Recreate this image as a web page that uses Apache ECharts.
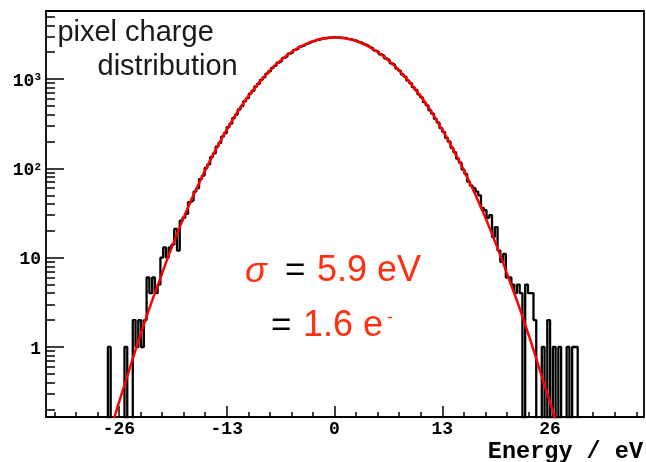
<!DOCTYPE html>
<html>
<head>
<meta charset="utf-8">
<script src="https://cdn.jsdelivr.net/npm/echarts@6.0.0/dist/echarts.min.js"></script>
<style>
html,body{margin:0;padding:0;background:#fff;}
#chart{width:646px;height:462px;}
</style>
</head>
<body>
<div id="chart"></div>
<script>
// ---- data ----
const binStart = -27 - 1/3;     // left edge of first bin (eV)
const binWidth = 1/3;           // eV per bin
const counts = [
  1,0,0,0,0,0,1,0,0,2,1,2,1,2,6,4,6,4,5,10,13,10,13,14,21,12,
  26,28,31,42,44,55,60,76,83,101,111,134,147,175,193,227,249,290,318,367,
  401,458,497,565,611,688,741,826,886,982,1047,1151,1224,1335,1409,1526,1602,1725,1799,1925,
  1996,2121,2188,2309,2366,2480,2528,2633,2667,2760,2778,2856,2861,2920,2905,2947,
  2915,2938,2889,2890,2825,2810,2729,2700,2601,2559,
  2450,2398,2279,2217,2093,2024,1898,1826,1700,1626,
  1503,1430,1313,1243,1133,1066,965,902,812,755,
  675,623,552,509,448,410,358,326,283,256,
  220,199,170,152,129,116,97,87,71,64,
  60,55,50,36,34,28,30,17,22,12,
  9,11,6,6,5,4,5,4,0,5,
  4,4,2,0,0,1,0,2,0,1,
  0,1,0,0,1,0,1,1
];
const fitX = [-28,-27,-26,-25,-24,-23,-22,-21,-20,-19,-18,-17,-16,-15,-14,-13,-12,-11,-10,-9,-8,-7,-6,-5,-4,-3,-2,-1,
  0,1,2,3,4,5,6,7,8,9,10,11,12,13,14,15,16,17,18,19,20,21,22,23,24,25,26,27,28];
const fitY = [0.0546,0.117,0.24,0.47,0.93,1.78,3.3,5.9,10.6,18.4,31,50.5,79.5,123,185,270,386,536,717,936,1191,1472,1767,2062,2340,2582,2770,2889,
  2930,2889,2770,2582,2340,2062,1767,1472,1191,936,717,536,386,270,185,123,79.5,50.5,31,18.4,10.6,5.9,3.3,1.78,0.93,0.47,0.24,0.117,0.0546];
const xMajorTicks = [-26,-13,0,13,26];
const xMinorTicks = [-33.8,-31.2,-28.6,-23.4,-20.8,-18.2,-15.6,-10.4,-7.8,-5.2,-2.6,2.6,5.2,7.8,10.4,15.6,18.2,20.8,23.4,28.6,31.2,33.8,36.4];
const yMajorTicks = [1,10,100,1000];
const yTickLabels = ['{b|1}','{b|10}','{b|10}{s|2}','{b|10}{s|3}'];
const yMinorTicks = [0.2,0.3,0.4,0.5,0.6,0.7,0.8,0.9,2,3,4,5,6,7,8,9,20,30,40,50,60,70,80,90,200,300,400,500,600,700,800,900,2000,3000,4000,5000];
const xRange = [-34.8, 37.33];
const yRange = [0.1644, 5790];

// ---- build series ----
const EMPTY = 1e-3; // empty bins drawn below the log-axis floor (clipped)
const histPoints = [[binStart, EMPTY]];
counts.forEach((c, i) => histPoints.push([binStart + i * binWidth, c > 0 ? c : EMPTY]));
histPoints.push([binStart + counts.length * binWidth, EMPTY]);
const fitPoints = fitX.map((x, i) => [x, fitY[i]]);

const chart = echarts.init(document.getElementById('chart'), null, {renderer: 'canvas'});
const monoBold = {fontFamily: 'Liberation Mono', fontWeight: 'bold', color: '#000'};
const RED = '#ff3010';
const noLine = {show: false, onZero: false};

chart.setOption({
  animation: false,
  backgroundColor: '#fff',
  grid: {left: 46, right: 2, top: 11, bottom: 45, show: true, borderColor: '#000', borderWidth: 1.8,
         backgroundColor: '#fff', outerBoundsMode: 'none', containLabel: false},
  xAxis: [
    {type: 'value', min: xRange[0], max: xRange[1], position: 'bottom',
     axisLine: noLine, splitLine: {show: false},
     axisTick: {show: true, inside: true, length: 11, customValues: xMajorTicks, lineStyle: {color: '#000', width: 1.5}},
     axisLabel: Object.assign({customValues: xMajorTicks, fontSize: 18, margin: 3}, monoBold)},
    {type: 'value', min: xRange[0], max: xRange[1], position: 'bottom',
     axisLine: noLine, splitLine: {show: false},
     axisTick: {show: true, inside: true, length: 5, customValues: xMinorTicks, lineStyle: {color: '#000', width: 1.5}},
     axisLabel: {show: false}}
  ],
  yAxis: [
    {type: 'log', min: yRange[0], max: yRange[1], position: 'left',
     axisLine: noLine, splitLine: {show: false},
     axisTick: {show: true, inside: true, length: 18, customValues: yMajorTicks, lineStyle: {color: '#000', width: 1.5}},
     axisLabel: {customValues: yMajorTicks, margin: 5, align: 'right', padding: [4, 0, 0, 0],
       formatter: v => yTickLabels[yMajorTicks.indexOf(Math.round(v))] || '',
       rich: {
         b: {fontFamily: 'Liberation Mono', fontWeight: 'bold', fontSize: 18, lineHeight: 18, color: '#000'},
         s: {fontFamily: 'Liberation Mono', fontWeight: 'bold', fontSize: 11, lineHeight: 10, color: '#000', verticalAlign: 'top'}
       }}},
    {type: 'log', min: yRange[0], max: yRange[1], position: 'left', offset: 0,
     axisLine: noLine, splitLine: {show: false},
     axisTick: {show: true, inside: true, length: 9, customValues: yMinorTicks, lineStyle: {color: '#000', width: 1.5}},
     axisLabel: {show: false}}
  ],
  series: [
    {type: 'line', name: 'hist', xAxisIndex: 0, yAxisIndex: 0, data: histPoints, step: 'end',
     symbol: 'none', showSymbol: false, clip: true, z: 2,
     lineStyle: {color: '#000', width: 2.3}},
    {type: 'line', name: 'fit', xAxisIndex: 0, yAxisIndex: 0, data: fitPoints, smooth: true,
     symbol: 'none', showSymbol: false, clip: true, z: 3,
     lineStyle: {color: '#ff0000', width: 2.5}}
  ],
  graphic: [
    {type: 'text', x: 57.4, y: 33.2, z: 10, style: {text: 'pixel charge', font: '29px "Liberation Sans"', fill: '#1a1a1a', verticalAlign: 'middle'}},
    {type: 'text', x: 97.5, y: 66.6, z: 10, style: {text: 'distribution', font: '29px "Liberation Sans"', fill: '#1a1a1a', verticalAlign: 'middle'}},
    {type: 'text', x: 245, y: 271.5, z: 10, style: {text: 'σ', font: 'italic 36px "Liberation Sans"', fill: RED, verticalAlign: 'middle'}},
    {type: 'text', x: 285, y: 271.5, z: 10, style: {text: '=', font: '35px "Liberation Sans"', fill: '#000', verticalAlign: 'middle'}},
    {type: 'text', x: 317, y: 271.5, z: 10, style: {text: '5.9 eV', font: '36px "Liberation Sans"', fill: RED, verticalAlign: 'middle'}},
    {type: 'text', x: 271, y: 326.2, z: 10, style: {text: '=', font: '35px "Liberation Sans"', fill: '#000', verticalAlign: 'middle'}},
    {type: 'text', x: 303, y: 326.2, z: 10, style: {text: '1.6 e', font: '36px "Liberation Sans"', fill: RED, verticalAlign: 'middle'}},
    {type: 'text', x: 387, y: 318, z: 10, style: {text: '-', font: '18px "Liberation Sans"', fill: RED, verticalAlign: 'middle'}},
    {type: 'text', x: 643, y: 452.4, z: 10, style: {text: 'Energy / eV', font: 'bold 23.5px "Liberation Mono"', fill: '#000', align: 'right', verticalAlign: 'middle'}}
  ]
});
</script>
</body>
</html>
